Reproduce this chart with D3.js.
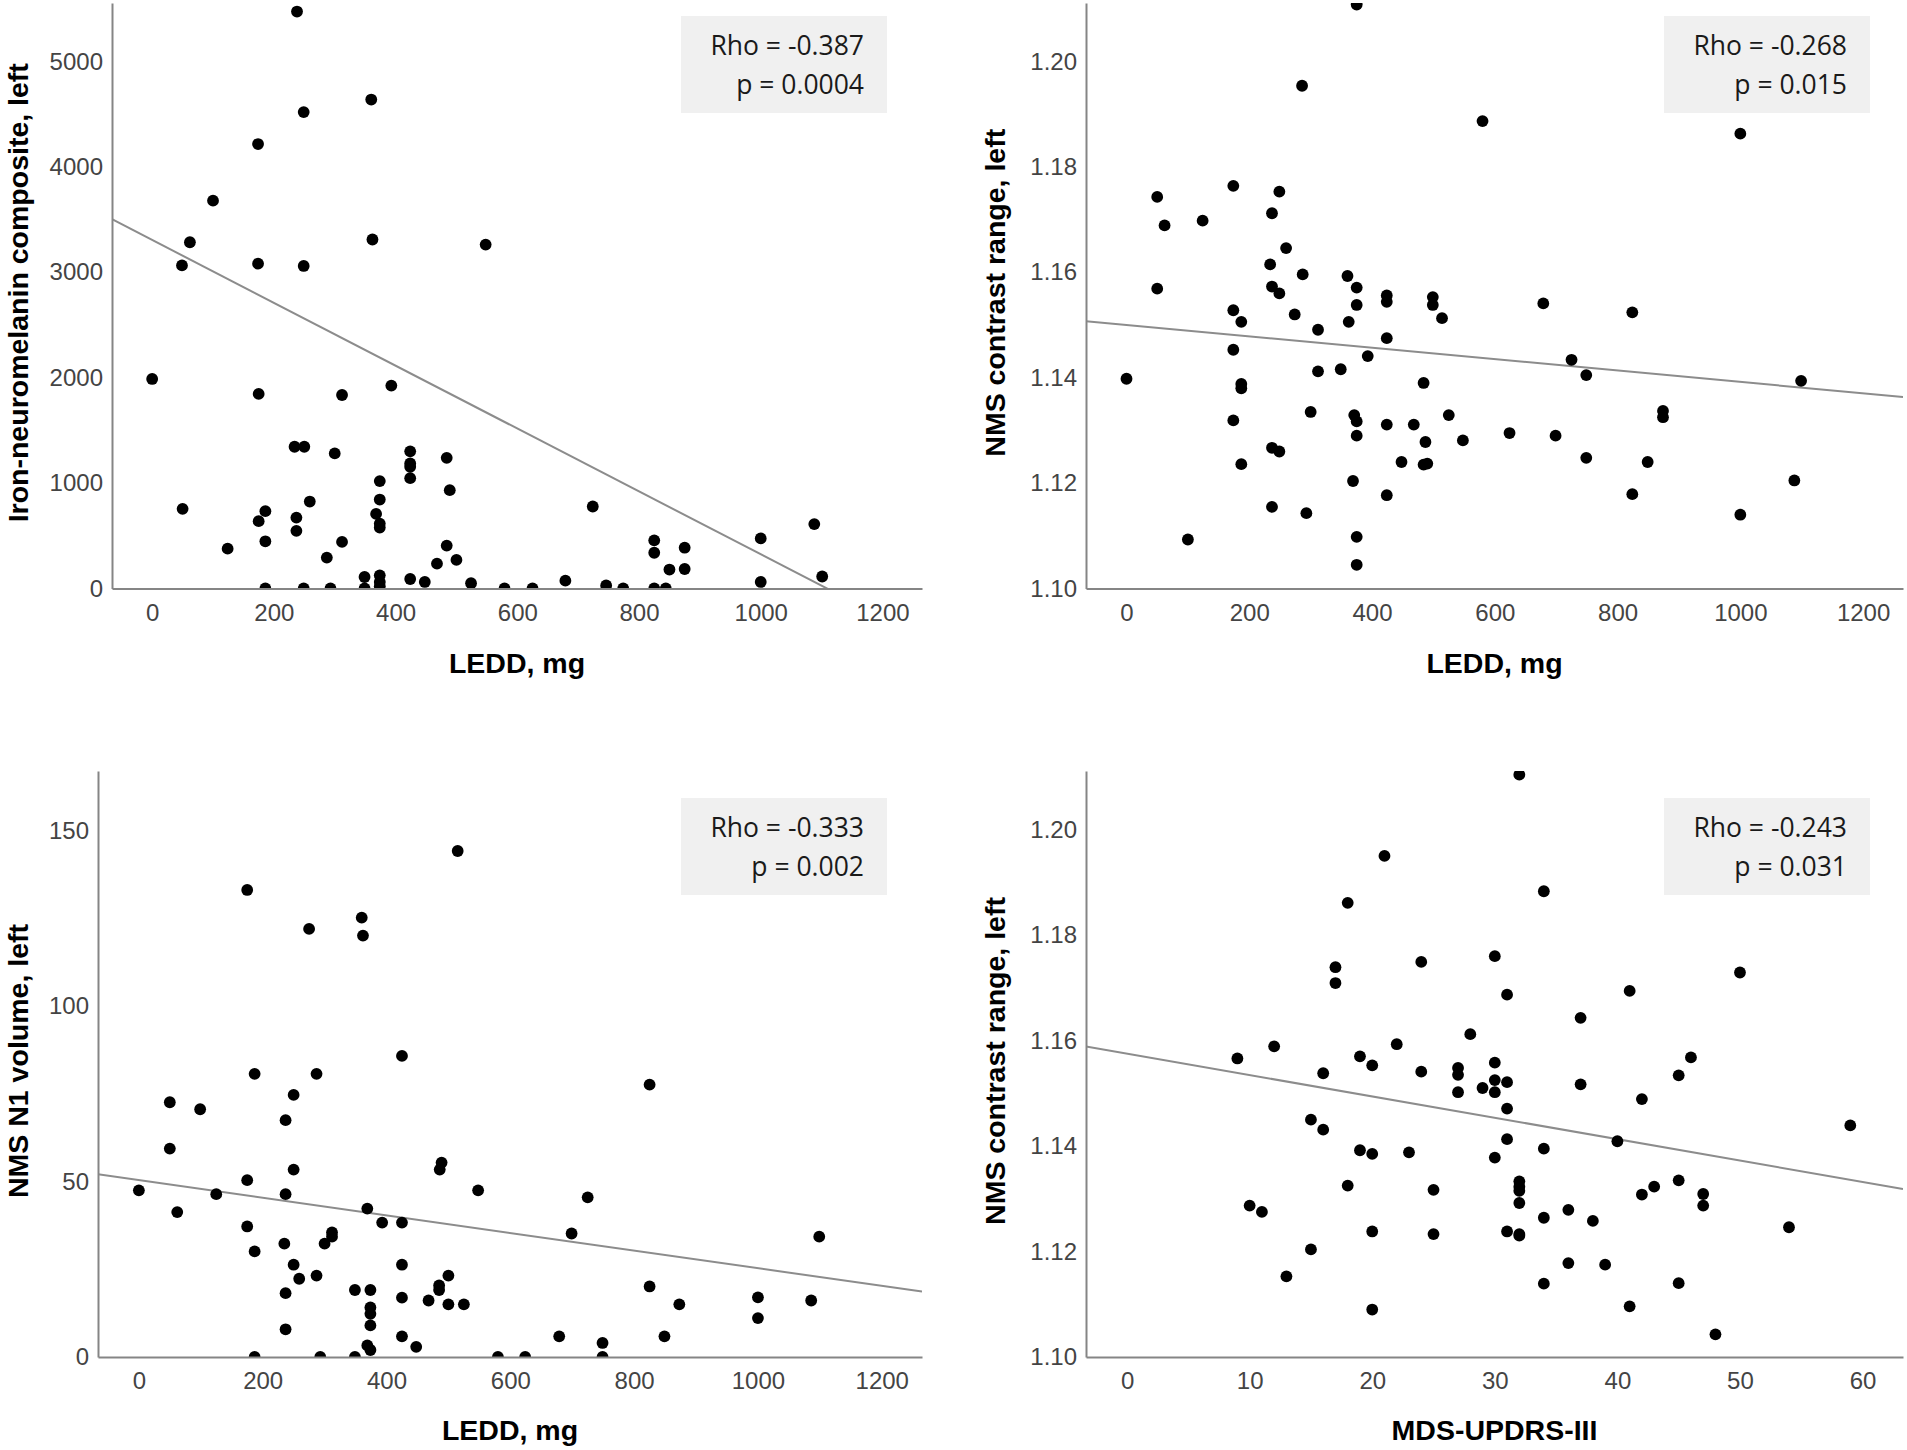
<!DOCTYPE html>
<html>
<head>
<meta charset="utf-8">
<script src="https://d3js.org/d3.v7.min.js"></script>
<style>
  body { margin: 0; background: #fff; }
  .tick text { font-family: "Liberation Sans", Arial, sans-serif; font-size: 24px; fill: #444; }
  .axis-title { font-family: "Liberation Sans", Arial, sans-serif; font-size: 28.5px; font-weight: bold; fill: #000; }
  .stat { font-family: "Open Sans", sans-serif; font-size: 26.5px; fill: #1a1a1a; }
</style>
</head>
<body>
<script>
// ---- values ----

// A: LEDD vs iron-neuromelanin composite
var leddA = [238,360,249,174,100,62,49,174,249,362,548,
  0,175,312,393,234,250,300,424,424,424,424,484,489,374,374,368,374,374,50,186,175,237,259,237,186,312,124,287,484,500,468,724,
  349,374,374,374,349,424,448,524,579,625,679,746,186,249,293,
  825,825,875,850,875,1000,1000,1088,1101,774,825,844];
var ironA = [5474,4639,4520,4217,3680,3285,3065,3082,3060,3311,3263,
  1988,1846,1836,1925,1345,1345,1282,1301,1187,1155,1047,1240,933,1019,844,708,616,578,756,734,639,673,825,547,448,442,378,293,407,271,236,778,
  109,125,62,22,0,90,62,50,0,0,74,29,0,0,0,
  457,339,387,180,185,475,62,611,114,0,0,0];

// B: LEDD vs NMS contrast range
var leddB = [50,174,249,62,124,237,260,234,287,360,375,50,237,249,424,424,499,499,375,679,
  174,187,274,362,514,312,424,174,393,725,749,0,312,349,484,187,187,174,300,371,
  375,424,468,525,375,624,699,487,548,237,249,187,448,484,490,749,369,424,237,293,
  100,375,375,375,286,580,1000,1099,1088,1000,824,874,874,849,824];
var contrastB = [1.1743,1.1764,1.1753,1.1689,1.1698,1.1712,1.1646,1.1615,1.1596,1.1593,1.1571,1.1569,1.1573,1.1560,1.1556,1.1544,1.1553,1.1538,1.1538,1.1541,
  1.1528,1.1506,1.1520,1.1506,1.1513,1.1491,1.1475,1.1453,1.1441,1.1434,1.1405,1.1398,1.1412,1.1416,1.1390,1.1388,1.1380,1.1319,1.1335,1.1329,
  1.1317,1.1311,1.1311,1.1329,1.1290,1.1295,1.1290,1.1278,1.1281,1.1267,1.1260,1.1236,1.1240,1.1235,1.1237,1.1248,1.1204,1.1177,1.1155,1.1143,
  1.1093,1.1098,1.1045,1.2108,1.1954,1.1887,1.1863,1.1394,1.1205,1.1140,1.1524,1.1337,1.1325,1.1240,1.1179];

// C: LEDD vs NMS N1 volume
var leddC = [515,175,360,362,275,425,187,287,825,50,99,250,237,50,489,486,250,175,0,125,
  237,548,725,62,369,393,425,175,699,1099,312,312,300,235,187,250,425,259,287,500,
  237,349,374,485,485,825,425,468,500,525,873,1000,1086,1000,374,374,374,237,425,679,
  849,448,369,374,749,187,293,349,580,624,749];
var volumeC = [144.2,133.1,125.2,120.1,122.0,85.8,80.7,80.7,77.6,72.6,70.6,74.7,67.5,59.4,55.4,53.4,53.4,50.4,47.5,46.4,
  46.4,47.5,45.5,41.3,42.3,38.3,38.3,37.2,35.2,34.3,35.5,34.3,32.3,32.3,30.1,26.3,26.3,22.3,23.2,23.2,
  18.2,19.1,19.1,20.4,19.1,20.1,16.9,16.1,15.0,15.0,15.0,17.0,16.1,11.1,14.1,12.3,9.0,7.9,5.9,5.9,
  5.9,2.9,3.3,2.0,4.0,0,0,0,0,0,0];

// D: MDS-UPDRS-III vs NMS contrast range
var updrsD = [32,21,34,18,30,24,17,17,50,31,41,37,28,12,22,9,19,20,46,30,
  27,27,16,24,45,30,31,37,29,27,30,42,31,15,16,59,31,40,19,20,
  23,34,30,18,25,32,32,32,32,43,45,42,47,47,10,11,36,34,38,54,
  20,25,31,32,32,15,36,39,13,34,45,20,41,48];
var contrastD = [1.2104,1.1950,1.1883,1.1861,1.1760,1.1749,1.1739,1.1709,1.1729,1.1687,1.1694,1.1643,1.1612,1.1589,1.1593,1.1566,1.1570,1.1553,1.1568,1.1558,
  1.1548,1.1535,1.1538,1.1541,1.1534,1.1525,1.1521,1.1517,1.1510,1.1502,1.1502,1.1489,1.1471,1.1450,1.1431,1.1439,1.1413,1.1409,1.1392,1.1385,
  1.1388,1.1395,1.1378,1.1325,1.1317,1.1333,1.1323,1.1315,1.1292,1.1323,1.1335,1.1308,1.1309,1.1287,1.1287,1.1275,1.1279,1.1264,1.1258,1.1246,
  1.1238,1.1233,1.1238,1.1233,1.1230,1.1204,1.1178,1.1175,1.1153,1.1139,1.1140,1.1090,1.1096,1.1043];

// fit lines: [intercept, slope]
var fitA = [3307, -2.982];
var fitB = [1.1500, -0.0000108];
var fitC = [50.4, -0.0251];
var fitD = [1.1575, -0.000405];

// tick labels
var leddTicks = [0, 200, 400, 600, 800, 1000, 1200];
var updrsTicks = [0, 10, 20, 30, 40, 50, 60];
var ironTicks = [0, 1000, 2000, 3000, 4000, 5000];
var contrastTicks = [1.10, 1.12, 1.14, 1.16, 1.18, 1.20];
var volumeTicks = [0, 50, 100, 150];

var rhoLabels = ["Rho = -0.387", "Rho = -0.268", "Rho = -0.333", "Rho = -0.243"];
var pLabels = ["p = 0.0004", "p = 0.015", "p = 0.002", "p = 0.031"];
var xTitles = ["LEDD, mg", "LEDD, mg", "LEDD, mg", "MDS-UPDRS-III"];
var yTitles = ["Iron-neuromelanin composite, left", "NMS contrast range, left",
               "NMS N1 volume, left", "NMS contrast range, left"];

// ---- layout ----
var W = 1907, H = 1450;
var panels = [
  {x: leddA, y: ironA, fit: fitA, xt: leddTicks, yt: ironTicks, yf: d3.format("d"),
   left: 112, right: 922, top: 3, bottom: 588.5, xDom: [-66, 1265], yDom: [0, 5555],
   box: [681, 16], yTitleX: 27.5, xTitleY: 673},
  {x: leddB, y: contrastB, fit: fitB, xt: leddTicks, yt: contrastTicks, yf: d3.format(".2f"),
   left: 1086, right: 1903, top: 3, bottom: 588.5, xDom: [-66, 1265], yDom: [1.10, 1.2111],
   box: [1664, 16], yTitleX: 1005, xTitleY: 673},
  {x: leddC, y: volumeC, fit: fitC, xt: leddTicks, yt: volumeTicks, yf: d3.format("d"),
   left: 98, right: 922, top: 771, bottom: 1357, xDom: [-66, 1265], yDom: [0, 167],
   box: [681, 798], yTitleX: 27.5, xTitleY: 1440},
  {x: updrsD, y: contrastD, fit: fitD, xt: updrsTicks, yt: contrastTicks, yf: d3.format(".2f"),
   left: 1086, right: 1903, top: 771, bottom: 1357, xDom: [-3.35, 63.3], yDom: [1.10, 1.2111],
   box: [1664, 798], yTitleX: 1005, xTitleY: 1440}
];

var svg = d3.select("body").append("svg")
  .attr("width", W).attr("height", H)
  .style("display", "block");
svg.append("rect").attr("width", W).attr("height", H).attr("fill", "#fff");

var defs = svg.append("defs");

panels.forEach(function(p, i) {
  var x = d3.scaleLinear().domain(p.xDom).range([p.left, p.right]);
  var y = d3.scaleLinear().domain(p.yDom).range([p.bottom, p.top]);

  defs.append("clipPath").attr("id", "clip" + i)
    .append("rect")
    .attr("x", p.left).attr("y", p.top)
    .attr("width", p.right - p.left).attr("height", p.bottom - p.top);

  var g = svg.append("g");

  // stat box
  g.append("rect")
    .attr("x", p.box[0]).attr("y", p.box[1])
    .attr("width", 206).attr("height", 97)
    .attr("fill", "#f0f0f0");
  g.append("text").attr("class", "stat")
    .attr("x", p.box[0] + 183).attr("y", p.box[1] + 39)
    .attr("text-anchor", "end").text(rhoLabels[i]);
  g.append("text").attr("class", "stat")
    .attr("x", p.box[0] + 183).attr("y", p.box[1] + 78)
    .attr("text-anchor", "end").text(pLabels[i]);

  var plot = g.append("g").attr("clip-path", "url(#clip" + i + ")");

  // fit line
  var line = d3.line()
    .x(function(d) { return x(d); })
    .y(function(d) { return y(p.fit[0] + p.fit[1] * d); });
  plot.append("path")
    .datum(p.xDom)
    .attr("d", line)
    .attr("fill", "none")
    .attr("stroke", "#8c8c8c")
    .attr("stroke-width", 2);

  // points
  plot.selectAll("circle")
    .data(p.x.map(function(v, k) { return [v, p.y[k]]; }))
    .enter().append("circle")
    .attr("cx", function(d) { return x(d[0]); })
    .attr("cy", function(d) { return y(d[1]); })
    .attr("r", 5.9)
    .attr("fill", "#000");

  // axes
  var xa = g.append("g")
    .attr("transform", "translate(0," + p.bottom + ")")
    .call(d3.axisBottom(x).tickValues(p.xt).tickSize(0).tickPadding(15).tickFormat(d3.format("d")));
  var ya = g.append("g")
    .attr("transform", "translate(" + p.left + ",0)")
    .call(d3.axisLeft(y).tickValues(p.yt).tickSize(0).tickPadding(9).tickFormat(p.yf));
  [xa, ya].forEach(function(a) {
    a.attr("font-size", null).attr("font-family", null);
    a.select(".domain").attr("stroke", "#858585").attr("stroke-width", 2);
  });

  // axis titles
  g.append("text").attr("class", "axis-title")
    .attr("x", (p.left + p.right) / 2).attr("y", p.xTitleY)
    .attr("text-anchor", "middle").text(xTitles[i]);
  g.append("text").attr("class", "axis-title")
    .attr("transform", "translate(" + p.yTitleX + "," + ((p.top + p.bottom) / 2 - 3) + ") rotate(-90)")
    .attr("text-anchor", "middle").text(yTitles[i]);
});
</script>
</body>
</html>
